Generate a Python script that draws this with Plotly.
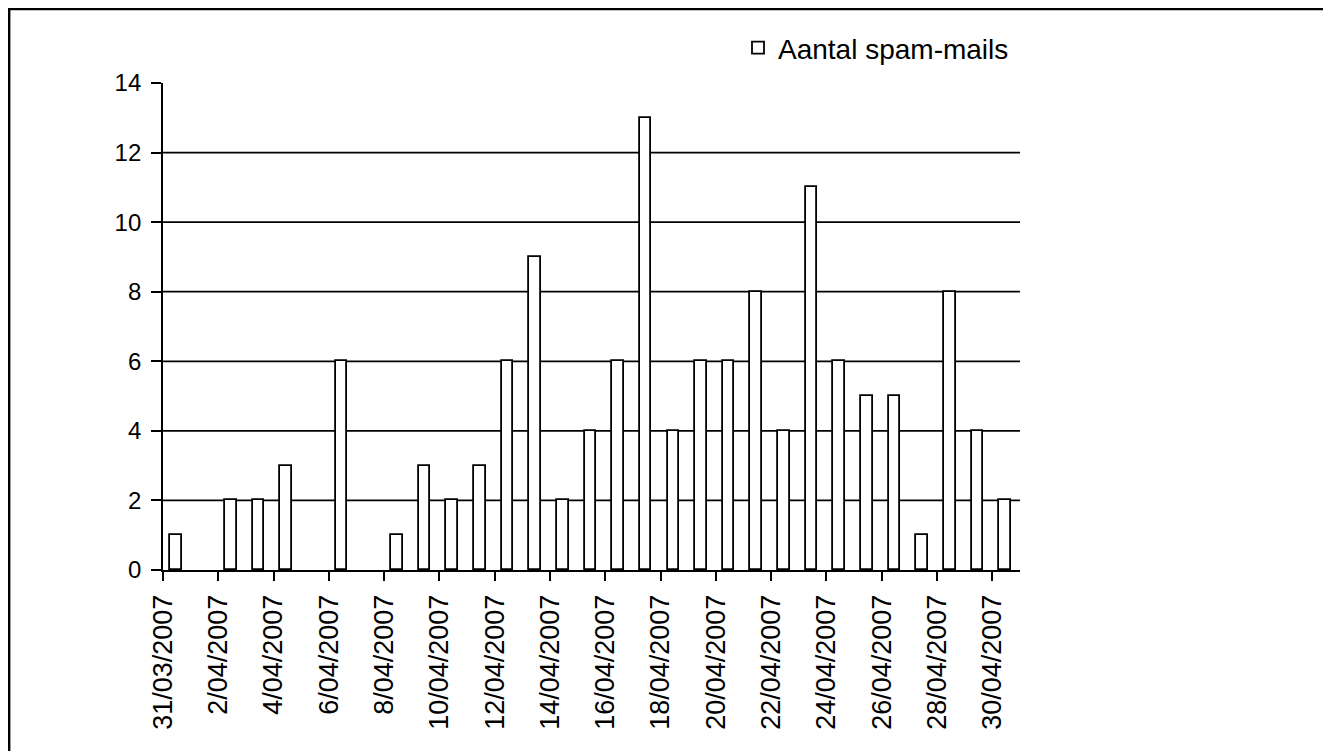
import plotly.graph_objects as go
import pandas as pd

dates = pd.date_range("2007-03-31", "2007-04-30", freq="D")
counts = [1, 0, 2, 2, 3, 0, 6, 0, 1, 3, 2, 3, 6, 9, 2, 4, 6, 13, 4, 6, 6, 8, 4, 11, 6, 5, 5, 1, 8, 4, 2]
series_name = "Aantal spam-mails"
y_ticks = [0, 2, 4, 6, 8, 10, 12, 14]
grid_values = [2, 4, 6, 8, 10, 12]

DAY = 86400000
FONT = "Liberation Sans, Arial, sans-serif"

# figure geometry (page has an 8px body margin)
W, H = 1323, 743
L, T = 155, 75
PW, PH = 857, 487
R, B = W - L - PW, H - T - PH

outline_widths = [1.8 if c > 0 else 0 for c in counts]

fig = go.Figure()
fig.add_trace(go.Bar(
    x=dates, y=counts, name=series_name,
    width=0.42 * DAY, offset=0.25 * DAY,
    marker=dict(color="white", line=dict(color="black", width=outline_widths)),
    showlegend=True,
))

shapes = []
for g in grid_values:
    shapes.append(dict(type="line", xref="paper", yref="y", x0=0, x1=1, y0=g, y1=g,
                       line=dict(color="black", width=1.8), layer="below"))
# outer border
shapes.append(dict(type="rect", xref="paper", yref="paper",
                   x0=(1.2 - L) / PW, x1=(1320 - L) / PW,
                   y0=-0.5, y1=(T + PH - 1) / PH,
                   line=dict(color="black", width=2.4), layer="below"))

fig.update_layout(
    width=W, height=H,
    margin=dict(l=L, r=R, t=T, b=B),
    paper_bgcolor="white", plot_bgcolor="white",
    font=dict(family=FONT, size=24, color="black"),
    bargap=0,
    shapes=shapes,
    showlegend=True,
    legend=dict(x=(730 - L) / PW, y=(T + PH - 40) / PH, xanchor="left", yanchor="middle",
                bgcolor="rgba(0,0,0,0)", font=dict(size=28, family=FONT),
                itemwidth=30, tracegroupgap=0),
    xaxis=dict(
        type="date",
        range=["2007-03-31", "2007-05-01"],
        tick0="2007-03-31", dtick=2 * DAY,
        tickformat="%-d/%m/%Y", tickangle=-90,
        ticks="outside", ticklen=9, tickwidth=1.8, tickcolor="black",
        showline=True, linecolor="black", linewidth=1.8,
        showgrid=False, zeroline=False,
        ticklabelstandoff=3,
        tickfont=dict(size=27, family=FONT),
    ),
    yaxis=dict(
        range=[0, 14], tickvals=y_ticks,
        ticks="outside", ticklen=10, tickwidth=1.8, tickcolor="black",
        showline=True, linecolor="black", linewidth=1.8,
        showgrid=False, zeroline=False,
        ticklabelstandoff=5,
        tickfont=dict(size=24, family=FONT),
    ),
)

fig.write_html("out.html")
